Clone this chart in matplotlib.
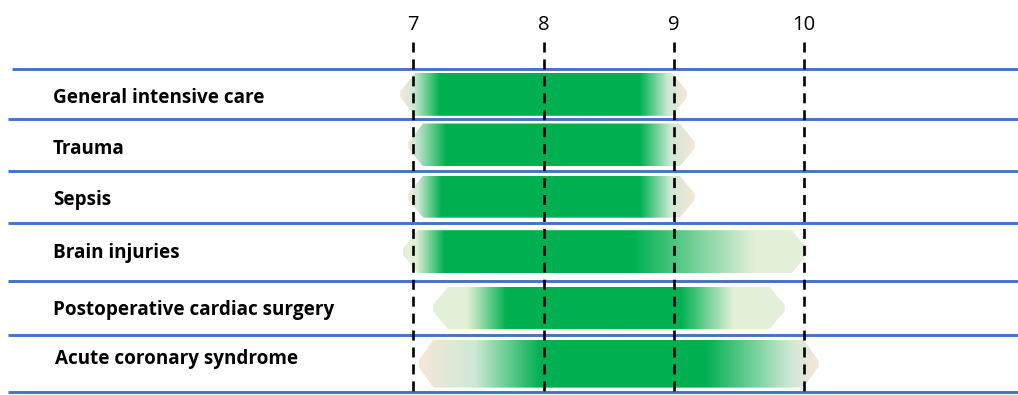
import numpy as np
import matplotlib
matplotlib.use("Agg")
import matplotlib.pyplot as plt
from matplotlib.colors import LinearSegmentedColormap
from matplotlib.patches import Polygon

plt.rcParams['lines.scale_dashes'] = False

# ---------------- data ----------------
labels = ["General intensive care", "Trauma", "Sepsis", "Brain injuries",
          "Postoperative cardiac surgery", "Acute coronary syndrome"]
ticks = [7, 8, 9, 10]
# bar outer extent (tip to tip)
bar_lo = [6.90, 6.96, 6.96, 6.92, 7.15, 7.04]
bar_hi = [9.10, 9.16, 9.16, 10.02, 9.85, 10.11]
# where the fade towards green starts / ends
fade_lo = [7.00, 7.01, 7.03, 7.01, 7.41, 7.46]
fade_hi = [8.96, 8.98, 8.98, 9.62, 9.46, 9.89]
# solid green core
core_lo = [7.20, 7.25, 7.21, 7.23, 7.71, 7.97]
core_hi = [8.74, 8.74, 8.74, 8.69, 9.05, 9.24]
# end types: 'b' = beige tip, 'p' = pale green tip
end_type = ['b', 'b', 'b', 'p', 'p', 'b']

# ---------------- styles / layout ----------------
GREEN = '#00B050'
BEIGE = '#F7E6D9'
PALE = '#E2F0D9'
LIGHT = '#CDE9D4'
BLUE = '#4472C4'

W, H = 1018, 395
PX0 = 608.75   # pixel of x=8.5
SCALE = 130.3  # pixels per unit
X0 = 8.5 - PX0 / SCALE
X1 = 8.5 + (W - PX0) / SCALE

row_edges = [69.3, 119.3, 170.7, 222.7, 280.7, 335.3, 392.0]
bar_h = [43, 43, 42, 43, 42, 48]
label_dy = [3.5, 3.5, 3, 1.5, 1.5, -5]
label_px = [53, 53, 53, 53, 53, 55]
chamfer = 15 / SCALE
tip_half = 3

fig = plt.figure(figsize=(W / 100, H / 100), dpi=100)
ax = fig.add_axes([0, 0, 1, 1])
ax.set_xlim(X0, X1)
ax.set_ylim(H, 0)
ax.axis('off')

for i, lab in enumerate(labels):
    top_e, bot_e = row_edges[i], row_edges[i + 1]
    yc = (top_e + bot_e) / 2
    h = bar_h[i]
    yt, yb = yc - h / 2, yc + h / 2
    lo, hi = bar_lo[i], bar_hi[i]
    if end_type[i] == 'b':
        tipc, edgec = BEIGE, LIGHT
    else:
        tipc, edgec = PALE, PALE
    stops = [(lo, tipc), (fade_lo[i], edgec), (core_lo[i], GREEN),
             (core_hi[i], GREEN), (fade_hi[i], edgec), (hi, tipc)]
    span = hi - lo
    cmap = LinearSegmentedColormap.from_list(
        f"g{i}", [((p - lo) / span, c) for p, c in stops])
    grad = np.linspace(0, 1, 600)[None, :]
    im = ax.imshow(grad, cmap=cmap, extent=(lo, hi, yb, yt), aspect='auto',
                   interpolation='bilinear', zorder=1)
    poly = Polygon([(lo, yc - tip_half), (lo + chamfer, yt), (hi - chamfer, yt),
                    (hi, yc - tip_half), (hi, yc + tip_half), (hi - chamfer, yb),
                    (lo + chamfer, yb), (lo, yc + tip_half)],
                   closed=True, facecolor='none', edgecolor='none')
    ax.add_patch(poly)
    im.set_clip_path(poly)

    ax.text(X0 + label_px[i] / SCALE, yc + label_dy[i], lab, ha='left', va='center',
            fontsize=13.6, fontweight='bold', family=['Open Sans', 'DejaVu Sans'],
            color='black', zorder=4)

# horizontal blue separators
for j, y in enumerate(row_edges):
    start = 12 if j == 0 else 8
    ax.plot([X0 + start / SCALE, X1], [y, y], color=BLUE, lw=2.1,
            solid_capstyle='butt', zorder=2)

# dashed vertical reference lines with labels
for t in ticks:
    ax.plot([t, t], [42, row_edges[-1]], color='black', lw=1.9,
            linestyle=(0, (7.2, 5.0)), zorder=3)
    ax.text(t, 30.5, str(t), ha='center', va='baseline', fontsize=14.5,
            family=['Open Sans', 'DejaVu Sans'], color='black')

fig.savefig("out.png", dpi=100)
